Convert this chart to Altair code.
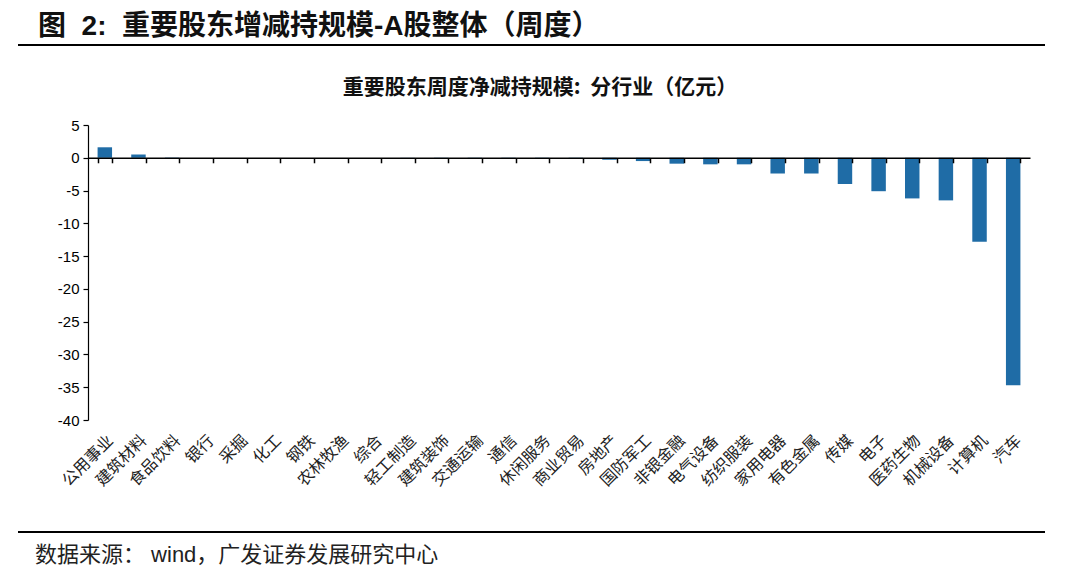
import altair as alt
import pandas as pd

industries = ["公用事业", "建筑材料", "食品饮料", "银行", "采掘", "化工", "钢铁", "农林牧渔",
              "综合", "轻工制造", "建筑装饰", "交通运输", "通信", "休闲服务", "商业贸易", "房地产",
              "国防军工", "非银金融", "电气设备", "纺织服装", "家用电器", "有色金属", "传媒", "电子",
              "医药生物", "机械设备", "计算机", "汽车"]
values = [1.6, 0.5, 0.05, 0.0, 0.0, 0.0, 0.0, 0.0,
          0.0, -0.02, -0.03, -0.05, -0.05, -0.05, -0.08, -0.3,
          -0.5, -0.9, -1.0, -1.0, -2.4, -2.4, -4.0, -5.1,
          -6.2, -6.5, -12.8, -34.7]
y_ticks = [5, 0, -5, -10, -15, -20, -25, -30, -35, -40]

NB = "\u00a0"
fig_title = "图" + NB * 2 + "2:" + NB * 2 + "重要股东增减持规模-A股整体（周度）"
chart_title = "重要股东周度净减持规模:" + NB * 2 + "分行业（亿元）"
source_text = "数据来源：" + NB + "wind，广发证券发展研究中心"

W, H = 942, 295
Y_MIN, Y_MAX = -40, 5
CJK = "Noto Sans CJK SC"
MIXED = "Liberation Sans, Noto Sans CJK SC"

df = pd.DataFrame({"industry": industries, "value": values})

xscale = alt.Scale(paddingInner=0.57, paddingOuter=0.285)
yenc = alt.Y("value:Q",
             scale=alt.Scale(domain=[Y_MIN, Y_MAX], nice=False, zero=False),
             axis=alt.Axis(values=y_ticks, title=None, grid=False,
                           labelExpr="'' + datum.value",
                           domainColor="black", domainWidth=1.2,
                           tickColor="black", tickSize=5, tickWidth=1.2,
                           labelFont="Liberation Sans", labelFontSize=15,
                           labelColor="black", labelPadding=4))

bars = alt.Chart(df).mark_bar(color="#1f6ca6").encode(
    x=alt.X("industry:N", sort=industries, scale=xscale,
            axis=alt.Axis(title=None, labelAngle=-45, domain=False, ticks=False,
                          labelFont=CJK, labelFontSize=16, labelColor="#222",
                          labelPadding=12, labelOverlap=False)),
    y=yenc,
)

zero_offset = -H * (0 - Y_MIN) / (Y_MAX - Y_MIN)
zero_axis = alt.Chart(df).mark_bar(opacity=0).encode(
    x=alt.X("industry:N", sort=industries, scale=xscale,
            axis=alt.Axis(title=None, orient="bottom", offset=zero_offset,
                          labels=False, domainColor="black", domainWidth=1.5,
                          tickColor="black", tickSize=5, tickWidth=1.5,
                          tickBand="extent", zindex=1)),
    y=yenc,
)

tdf = pd.DataFrame({"t": [fig_title]})
title_mark = alt.Chart(tdf).mark_text(
    font=MIXED, fontSize=28, fontWeight="bold", align="left", baseline="alphabetic",
    color="#111"
).encode(text="t:N", x=alt.value(-50), y=alt.value(-90))

sdf = pd.DataFrame({"t": [chart_title]})
sub_mark = alt.Chart(sdf).mark_text(
    font=CJK, fontSize=21, fontWeight="bold", align="center", baseline="middle",
    color="#111"
).encode(text="t:N", x=alt.value(452), y=alt.value(-37))

srcdf = pd.DataFrame({"t": [source_text]})
src_mark = alt.Chart(srcdf).mark_text(
    font=MIXED, fontSize=22, align="left", baseline="alphabetic", color="#222"
).encode(text="t:N", x=alt.value(-53), y=alt.value(437))

top_line = alt.Chart(tdf).mark_rule(color="black", strokeWidth=2).encode(
    x=alt.value(-70), x2=alt.value(957), y=alt.value(-80))
bottom_line = alt.Chart(tdf).mark_rule(color="black", strokeWidth=2).encode(
    x=alt.value(-70), x2=alt.value(957), y=alt.value(407))

chart = alt.layer(bars, zero_axis, title_mark, sub_mark, src_mark,
                  top_line, bottom_line).resolve_axis(
    x="independent"
).properties(
    width=W, height=H,
    autosize=alt.AutoSizeParams(type="none"),
    padding={"left": 80, "top": 117, "right": 30, "bottom": 152},
    background="white",
).configure_view(stroke=None)

chart.save("out.html", embed_options={"renderer": "svg", "actions": False})
